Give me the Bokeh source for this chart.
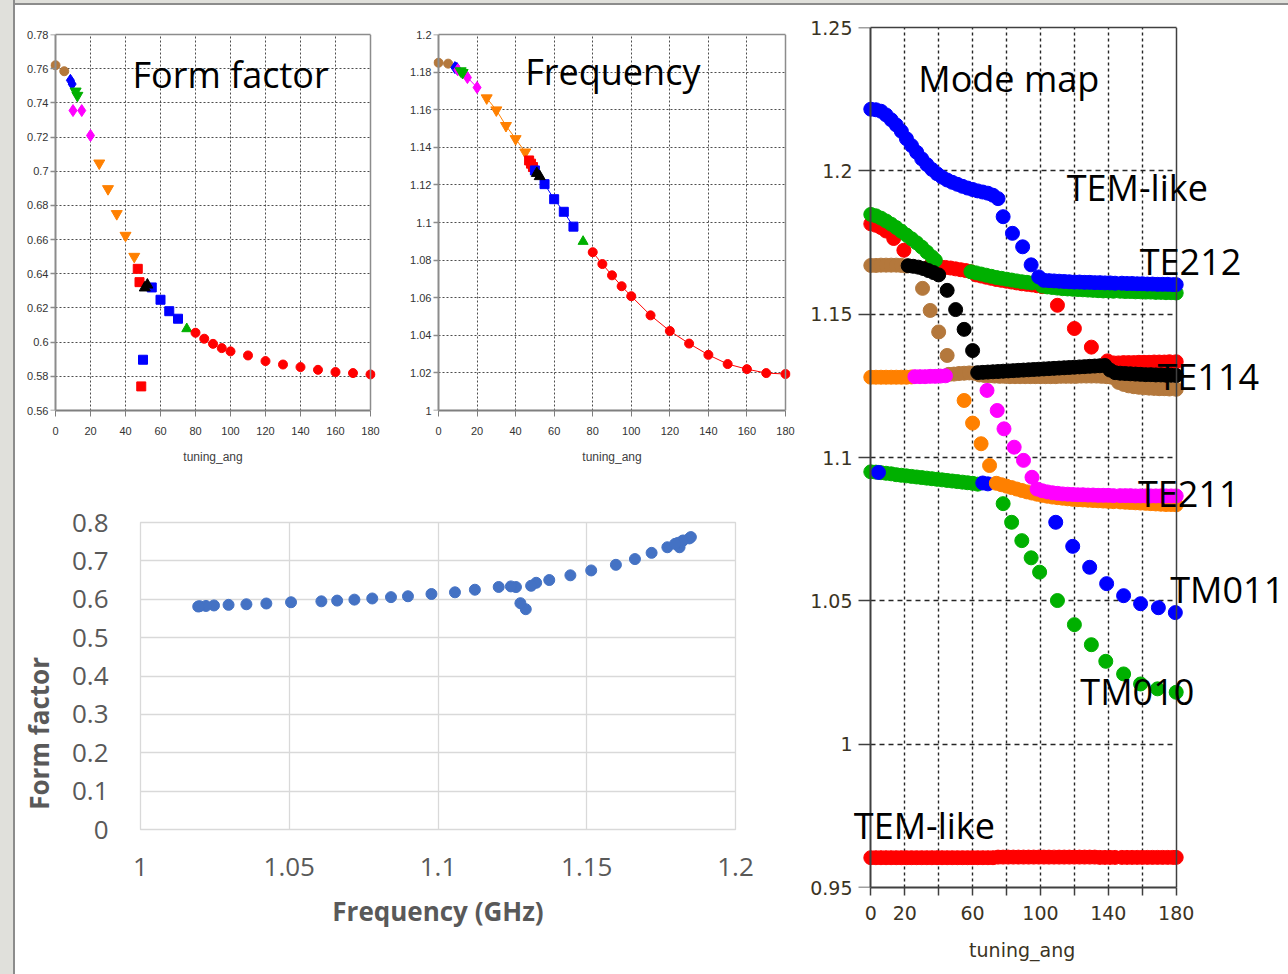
from bokeh.plotting import figure
from bokeh.layouts import row, column
from bokeh.models import Spacer, Label, FixedTicker, LinearAxis
from bokeh.embed import file_html
from bokeh.resources import INLINE

SMALL = "Liberation Sans"
BIG = "Open Sans"

# ---------------------------------------------------------------
# Tuning scan: form factor and frequency of the tracked mode
# ---------------------------------------------------------------
SEGMENT = ["brown_circle", "brown_circle",
           "blue_diamond", "blue_diamond",
           "magenta_diamond", "magenta_diamond", "magenta_diamond",
           "green_down", "green_down",
           "orange_down", "orange_down", "orange_down", "orange_down", "orange_down",
           "red_square", "red_square", "red_square",
           "blue_square", "blue_square", "blue_square", "blue_square", "blue_square",
           "black_up", "black_up",
           "green_up",
           "red_circle", "red_circle", "red_circle", "red_circle", "red_circle",
           "red_circle", "red_circle", "red_circle", "red_circle", "red_circle",
           "red_circle", "red_circle", "red_circle"]
ANGLE = [0, 5,
         8.5, 9.5,
         10, 15, 20,
         11.5, 12.5,
         25, 30, 35, 40, 45,
         47, 48, 49,
         50, 55, 60, 65, 70,
         51, 52.5,
         75,
         80, 85, 90, 95, 100, 110, 120, 130, 140, 150, 160, 170, 180]
FORM_FACTOR = [0.7620, 0.7585,
               0.7532, 0.7510,
               0.7355, 0.7355, 0.7209,
               0.7468, 0.7443,
               0.7047, 0.6897, 0.6751, 0.6624, 0.6501,
               0.6429, 0.6351, 0.5741,
               0.5897, 0.6320, 0.6248, 0.6181, 0.6137,
               0.6318, 0.6335,
               0.6078,
               0.6055, 0.6020, 0.5990, 0.5965, 0.5946, 0.5922, 0.5889, 0.5869,
               0.5854, 0.5838, 0.5825, 0.5819, 0.5811]
FREQ_GHZ = [1.1850, 1.1845,
            1.1824, 1.1820,
            1.1812, 1.1771, 1.1718,
            1.1806, 1.1797,
            1.1662, 1.1598, 1.1515, 1.1445, 1.1374,
            1.1330, 1.1313, 1.1295,
            1.1277, 1.1204, 1.1124, 1.1057, 1.0978,
            1.1262, 1.1245,
            1.0899,
            1.0842, 1.0779, 1.0719, 1.0661, 1.0608, 1.0506, 1.0423, 1.0356,
            1.0296, 1.0247, 1.0220, 1.0199, 1.0194]

SEGMENT_STYLE = {
    "brown_circle": ("#b4783c", "circle", 9),
    "blue_diamond": ("#0000ff", "diamond", 12),
    "magenta_diamond": ("#ff00ff", "diamond", 12),
    "green_down": ("#00b000", "inverted_triangle", 11),
    "orange_down": ("#ff8000", "inverted_triangle", 11),
    "red_square": ("#ff0000", "square", 9),
    "blue_square": ("#0000ff", "square", 9),
    "black_up": ("#000000", "triangle", 11),
    "green_up": ("#00b000", "triangle", 10),
    "red_circle": ("#ff0000", "circle", 9),
}

ANGLE_TICKS = [0, 20, 40, 60, 80, 100, 120, 140, 160, 180]
ANGLE_TICK_LABELS = ["0", "20", "40", "60", "80", "100", "120", "140", "160", "180"]
FF_TICKS = [0.56, 0.58, 0.60, 0.62, 0.64, 0.66, 0.68, 0.70, 0.72, 0.74, 0.76, 0.78]
FF_TICK_LABELS = ["0.56", "0.58", "0.6", "0.62", "0.64", "0.66", "0.68", "0.7",
                  "0.72", "0.74", "0.76", "0.78"]
FREQ_TICKS = [1.00, 1.02, 1.04, 1.06, 1.08, 1.10, 1.12, 1.14, 1.16, 1.18, 1.20]
FREQ_TICK_LABELS = ["1", "1.02", "1.04", "1.06", "1.08", "1.1", "1.12", "1.14",
                    "1.16", "1.18", "1.2"]

# ---------------------------------------------------------------
# Mode map: eigenfrequencies (GHz) of each solver mode vs tuning angle
# ---------------------------------------------------------------
MM_RED_X = [0, 3, 6, 9, 12, 15, 18, 21, 24, 27, 30, 33, 36, 39, 42, 45, 48, 51, 54, 57,
            60, 63, 66, 69, 72, 75, 78, 81, 84, 87, 90, 93, 96, 99, 102, 105, 108, 111,
            114, 117, 120, 123, 126, 129, 132, 135, 138, 141, 144,
            148, 151, 154, 157, 160, 163, 166, 169, 172, 175, 178, 180,
            0, 3, 6, 9, 13.5, 19.5,
            35, 38, 41, 44, 47, 50, 53, 56, 59,
            62, 65, 68, 71, 74, 77, 80, 83, 86, 89, 92, 95, 98, 101,
            110, 120, 130, 139.5,
            143, 146, 149, 152, 155, 158, 161, 164, 167, 170, 173, 176, 180]
MM_RED_Y = [0.9604, 0.9604, 0.9604, 0.9604, 0.9604, 0.9604, 0.9604, 0.9604, 0.9604, 0.9604,
            0.9604, 0.9604, 0.9604, 0.9604, 0.9604, 0.9604, 0.9604, 0.9604, 0.9604, 0.9604,
            0.9604, 0.9604, 0.9604, 0.9604, 0.9604, 0.9606, 0.9606, 0.9606, 0.9606, 0.9606,
            0.9606, 0.9606, 0.9606, 0.9606, 0.9606, 0.9606, 0.9606, 0.9606, 0.9606, 0.9606,
            0.9606, 0.9606, 0.9606, 0.9606, 0.9606, 0.9605, 0.9605, 0.9605, 0.9605,
            0.9605, 0.9605, 0.9605, 0.9605, 0.9605, 0.9605, 0.9605, 0.9605, 0.9605, 0.9605,
            0.9605, 0.9605,
            1.1815, 1.1810, 1.1802, 1.1790, 1.1764, 1.1723,
            1.1669, 1.1667, 1.1665, 1.1663, 1.1661, 1.1658, 1.1655, 1.1652, 1.1648,
            1.1637, 1.1633, 1.1629, 1.1625, 1.1621, 1.1618, 1.1615, 1.1612, 1.1609, 1.1606,
            1.1604, 1.1602, 1.1599, 1.1596,
            1.1531, 1.1450, 1.1385, 1.1337,
            1.1330, 1.1330, 1.1331, 1.1331, 1.1331, 1.1332, 1.1332, 1.1332, 1.1333, 1.1333,
            1.1333, 1.1334, 1.1334]

MM_GREEN_X = [0, 3, 6, 9, 12, 15, 18, 21, 24, 27, 30, 33, 36, 38,
              59, 62, 65, 68, 71, 74, 77, 80, 83, 86, 89, 92, 95,
              101, 104, 107, 110, 113, 116, 119, 122, 125, 128, 131, 134, 137, 140, 143,
              147, 150, 153, 156, 159, 162, 165, 168, 171, 174, 177, 180,
              0, 3, 6, 9, 12, 15, 18, 21, 24, 27, 30, 33, 36, 39, 42, 45, 48, 51, 54, 57,
              60, 63,
              78, 83, 89, 94.5, 99.5, 110, 120, 130, 138.5, 149, 159, 169, 180]
MM_GREEN_Y = [1.1848, 1.1843, 1.1835, 1.1825, 1.1814, 1.1802, 1.1789, 1.1776, 1.1763, 1.1749,
              1.1734, 1.1717, 1.1700, 1.1688,
              1.1648, 1.1644, 1.1640, 1.1636, 1.1632, 1.1628, 1.1625, 1.1622, 1.1619, 1.1616,
              1.1613, 1.1611, 1.1609,
              1.1598, 1.1595, 1.1593, 1.1591, 1.1589, 1.1588, 1.1587, 1.1586, 1.1585, 1.1584,
              1.1583, 1.1582, 1.1581, 1.1581, 1.1580,
              1.1580, 1.1579, 1.1579, 1.1578, 1.1578, 1.1577, 1.1577, 1.1576, 1.1576, 1.1575,
              1.1575, 1.1574,
              1.0950, 1.0949, 1.0947, 1.0945, 1.0943, 1.0940, 1.0938, 1.0936, 1.0934, 1.0932,
              1.0930, 1.0928, 1.0926, 1.0924, 1.0922, 1.0920, 1.0918, 1.0916, 1.0914, 1.0912,
              1.0910, 1.0907,
              1.0839, 1.0774, 1.0710, 1.0650, 1.0600, 1.0501, 1.0417, 1.0347, 1.0289, 1.0245,
              1.0210, 1.0193, 1.0181]

MM_BLUE_X = [0, 3, 6, 9, 12, 15, 18, 21, 24, 27, 30, 33, 36, 39, 42, 45, 48, 51, 54, 57,
             60, 63, 66, 69, 72, 75,
             78, 83.5, 89.5, 94.5, 99,
             102, 105, 108, 111, 114, 117, 120, 123, 126, 129, 132, 135, 138, 141, 144,
             148, 151, 154, 157, 160, 163, 166, 169, 172, 175, 178, 180,
             4.5, 66, 69,
             109, 119, 129, 139, 149, 159, 169.5, 179.5]
MM_BLUE_Y = [1.2215, 1.2213, 1.2208, 1.2195, 1.2178, 1.2160, 1.2138, 1.2112, 1.2088, 1.2065,
             1.2042, 1.2022, 1.2005, 1.1990, 1.1978, 1.1968, 1.1960, 1.1953, 1.1946, 1.1940,
             1.1935, 1.1930, 1.1926, 1.1922, 1.1915, 1.1903,
             1.1840, 1.1782, 1.1735, 1.1672, 1.1630,
             1.1618, 1.1617, 1.1616, 1.1615, 1.1614, 1.1613, 1.1612, 1.1612, 1.1611, 1.1611,
             1.1610, 1.1610, 1.1609, 1.1609, 1.1608,
             1.1608, 1.1607, 1.1607, 1.1606, 1.1606, 1.1605, 1.1605, 1.1604, 1.1604, 1.1604,
             1.1603, 1.1603,
             1.0948, 1.0911, 1.0908,
             1.0774, 1.0690, 1.0617, 1.0560, 1.0518, 1.0490, 1.0476, 1.0459]
MM_BLUE_LINE_X = [69, 75, 80, 85, 90, 95, 101]
MM_BLUE_LINE_Y = [1.0908, 1.0898, 1.0890, 1.0881, 1.0872, 1.0864, 1.0857]

MM_BROWN_X = [0, 3, 6, 9, 12, 15, 18, 21,
              30.5, 35, 40, 45,
              46, 49, 52, 55, 58, 61, 64, 67, 70, 73, 76, 79, 82, 85, 88, 91, 94, 97, 100,
              103, 106, 109, 112, 115, 118, 121, 124, 127, 130, 133, 136, 139, 142,
              146, 149, 152, 155, 158, 161, 164, 167, 170, 173, 176, 180]
MM_BROWN_Y = [1.1670, 1.1670, 1.1671, 1.1671, 1.1671, 1.1671, 1.1670, 1.1668,
              1.1590, 1.1513, 1.1438, 1.1356,
              1.1290, 1.1291, 1.1293, 1.1294, 1.1295, 1.1294, 1.1288, 1.1286, 1.1285, 1.1284,
              1.1283, 1.1283, 1.1282, 1.1282, 1.1282, 1.1282, 1.1282, 1.1282, 1.1282, 1.1282,
              1.1282, 1.1282, 1.1283, 1.1283, 1.1283, 1.1283, 1.1284, 1.1284, 1.1284, 1.1284,
              1.1283, 1.1282, 1.1280,
              1.1262, 1.1255, 1.1250, 1.1247, 1.1245, 1.1243, 1.1242, 1.1241, 1.1240, 1.1240,
              1.1239, 1.1238]

MM_BLACK_X = [22, 25, 28, 31, 34, 37, 40,
              45, 50, 55, 60,
              63, 66, 69, 72, 75, 78, 81, 84, 87, 90, 93, 96, 99, 102, 105, 108, 111, 114,
              117, 120, 123, 126, 129, 132, 135, 138,
              141, 144, 147, 150, 153, 156, 159, 162, 165, 168, 171, 174, 177, 180]
MM_BLACK_Y = [1.1669, 1.1667, 1.1664, 1.1659, 1.1652, 1.1645, 1.1637,
              1.1583, 1.1516, 1.1447, 1.1373,
              1.1296, 1.1297, 1.1298, 1.1299, 1.1300, 1.1301, 1.1302, 1.1303, 1.1304, 1.1305,
              1.1306, 1.1307, 1.1308, 1.1309, 1.1310, 1.1311, 1.1312, 1.1313, 1.1314, 1.1315,
              1.1316, 1.1317, 1.1318, 1.1319, 1.1320, 1.1321,
              1.1305, 1.1296, 1.1294, 1.1293, 1.1292, 1.1291, 1.1290, 1.1289, 1.1289, 1.1288,
              1.1288, 1.1287, 1.1287, 1.1286]

MM_ORANGE_X = [0, 3, 6, 9, 12, 15, 18, 21, 24,
               55, 60, 65, 70,
               74, 77, 80, 83, 86, 89, 92, 95, 98, 101, 104, 107, 110, 113, 116, 119, 122,
               125, 128, 131, 134, 137, 140, 143,
               147, 150, 153, 156, 159, 162, 165, 168, 171, 174, 177, 180]
MM_ORANGE_Y = [1.1280, 1.1280, 1.1280, 1.1280, 1.1280, 1.1280, 1.1280, 1.1280, 1.1281,
               1.1199, 1.1120, 1.1048, 1.0972,
               1.0910, 1.0905, 1.0900, 1.0895, 1.0890, 1.0885, 1.0880, 1.0876, 1.0872, 1.0868,
               1.0865, 1.0862, 1.0860, 1.0858, 1.0856, 1.0854, 1.0853, 1.0852, 1.0851, 1.0850,
               1.0849, 1.0848, 1.0847, 1.0846,
               1.0845, 1.0844, 1.0843, 1.0842, 1.0841, 1.0840, 1.0839, 1.0838, 1.0837, 1.0836,
               1.0836, 1.0835]

MM_MAGENTA_X = [26, 29, 32, 35, 38, 41, 44,
                68.5, 74.5, 78.5, 84.5, 90, 95,
                98, 101, 104, 107, 110, 113, 116, 119, 122, 125, 128, 131, 134, 137, 140, 143,
                147, 150, 153, 156, 159, 162, 165, 168, 171, 174, 177, 180]
MM_MAGENTA_Y = [1.1282, 1.1282, 1.1282, 1.1283, 1.1283, 1.1284, 1.1285,
                1.1234, 1.1164, 1.1100, 1.1036, 1.0990, 1.0931,
                1.0890, 1.0884, 1.0880, 1.0877, 1.0875, 1.0873, 1.0872, 1.0871, 1.0870, 1.0870,
                1.0869, 1.0869, 1.0868, 1.0868, 1.0868, 1.0867,
                1.0867, 1.0867, 1.0867, 1.0866, 1.0866, 1.0866, 1.0866, 1.0866, 1.0866, 1.0866,
                1.0866, 1.0866]

MM_X_TICKS = [0, 20, 40, 60, 80, 100, 120, 140, 160, 180]
MM_X_TICK_LABELS = ["0", "20", "", "60", "", "100", "", "140", "", "180"]
MM_Y_TICKS = [0.95, 1.0, 1.05, 1.1, 1.15, 1.2, 1.25]
MM_Y_TICK_LABELS = ["0.95", "1", "1.05", "1.1", "1.15", "1.2", "1.25"]

# mode names placed next to their branches: (text, tuning angle, frequency)
MODE_NAMES = ["Mode map", "TEM-like", "TE212", "TE114", "TE211", "TM011", "TM010", "TEM-like"]
MODE_NAME_X = [28, 115.5, 158.5, 169, 157.5, 176.5, 123.5, -10]
MODE_NAME_Y = [1.2322, 1.1941, 1.1685, 1.1284, 1.0876, 1.0541, 1.0185, 0.9717]

# bottom panel ticks
SCATTER_X_TICKS = [1.0, 1.05, 1.1, 1.15, 1.2]
SCATTER_X_TICK_LABELS = ["1", "1.05", "1.1", "1.15", "1.2"]
SCATTER_Y_TICKS = [0.0, 0.1, 0.2, 0.3, 0.4, 0.5, 0.6, 0.7, 0.8]
SCATTER_Y_TICK_LABELS = ["0", "0.1", "0.2", "0.3", "0.4", "0.5", "0.6", "0.7", "0.8"]


def base_fig(**kw):
    return figure(output_backend="svg", toolbar_location=None,
                  background_fill_color="white", border_fill_color="white", **kw)


def set_ticks(axis, ticks, labels):
    axis.ticker = FixedTicker(ticks=ticks)
    axis.major_label_overrides = dict(zip(ticks, labels))


def box_axes(p, x0, x1, yticks, line_color, line_width, tick_out):
    """The frame is a little wider than x0..x1 so that edge markers stay whole.
    The regular left axis only carries the labels; a second axis pinned at x0
    draws the spine and its ticks, and plain rules close the box on top/right."""
    p.outline_line_color = None
    ylab = p.yaxis[0]
    ylab.axis_line_color = None
    ylab.major_tick_line_color = None
    ylab.major_tick_out = 0
    ylab.major_tick_in = 0
    spine = LinearAxis(fixed_location=x0, ticker=FixedTicker(ticks=yticks),
                       major_label_overrides={t: "" for t in yticks},
                       axis_line_color=line_color, axis_line_width=2,
                       major_tick_line_color=line_color, major_tick_line_width=1.5,
                       major_tick_out=tick_out, major_tick_in=0,
                       minor_tick_line_color=None)
    p.add_layout(spine, "left")
    p.xaxis.bounds = (x0, x1)
    top = LinearAxis(bounds=(x0, x1), ticker=FixedTicker(ticks=[]),
                     axis_line_color=line_color, axis_line_width=line_width,
                     major_tick_line_color=None, minor_tick_line_color=None)
    right = LinearAxis(fixed_location=x1, ticker=FixedTicker(ticks=[]),
                       axis_line_color=line_color, axis_line_width=line_width,
                       major_tick_line_color=None, minor_tick_line_color=None)
    p.add_layout(top, "above")
    p.add_layout(right, "right")
    p.ygrid.cross_bounds = (x0, x1)


def small_panel(p, yticks, ylabels):
    set_ticks(p.xaxis[0], ANGLE_TICKS, ANGLE_TICK_LABELS)
    set_ticks(p.yaxis[0], yticks, ylabels)
    p.xgrid.ticker = FixedTicker(ticks=ANGLE_TICKS[1:-1])
    p.ygrid.ticker = FixedTicker(ticks=yticks[1:-1])
    p.grid.grid_line_color = "#4d4d4d"
    p.grid.grid_line_dash = "2 2"
    p.grid.grid_line_width = 1
    for ax in (p.xaxis[0], p.yaxis[0]):
        ax.axis_line_color = "#7f7f7f"
        ax.axis_line_width = 2
        ax.major_tick_line_color = "#7f7f7f"
        ax.major_tick_out = 6
        ax.major_tick_in = 0
        ax.minor_tick_line_color = None
        ax.major_label_text_font = SMALL
        ax.major_label_text_font_size = "11px"
        ax.major_label_text_color = "#333333"
    p.xaxis.major_label_standoff = 10
    p.yaxis.major_label_standoff = 2
    p.xaxis.axis_label = "tuning_ang"
    p.xaxis.axis_label_text_font = SMALL
    p.xaxis.axis_label_text_font_size = "12px"
    p.xaxis.axis_label_text_font_style = "normal"
    p.xaxis.axis_label_text_color = "#404040"
    p.xaxis.axis_label_standoff = 12
    box_axes(p, 0, 180, yticks, "#8c8c8c", 1.5, 6)


def draw_segments(p, yvalues, with_lines):
    for seg, (color, marker, size) in SEGMENT_STYLE.items():
        xs = [a for a, s in zip(ANGLE, SEGMENT) if s == seg]
        ys = [v for v, s in zip(yvalues, SEGMENT) if s == seg]
        if with_lines and len(xs) > 1:
            p.line(xs, ys, line_color=color, line_width=1)
        p.scatter(xs, ys, marker=marker, size=size, fill_color=color, line_color=color)


# ---- top-left: form factor vs tuning angle ----
pa = base_fig(width=385, height=470, x_range=(-2.86, 182.86), y_range=(0.56, 0.78),
              min_border_left=35, min_border_right=25, min_border_top=29,
              min_border_bottom=65)
small_panel(pa, FF_TICKS, FF_TICK_LABELS)
draw_segments(pa, FORM_FACTOR, False)
pa.add_layout(Label(x=44, y=0.7567, text="Form factor", text_font=BIG,
                    text_font_size="36px", text_color="black",
                    text_baseline="alphabetic"))

# ---- top-middle: frequency vs tuning angle ----
pb = base_fig(width=400, height=470, x_range=(-2.6, 182.6), y_range=(1.0, 1.2),
              min_border_left=33, min_border_right=10, min_border_top=28,
              min_border_bottom=63)
small_panel(pb, FREQ_TICKS, FREQ_TICK_LABELS)
draw_segments(pb, FREQ_GHZ, True)
pb.add_layout(Label(x=45, y=1.1804, text="Frequency", text_font=BIG,
                    text_font_size="36px", text_color="black",
                    text_baseline="alphabetic"))

# ---- bottom-left: form factor vs frequency ----
pc = base_fig(width=785, height=499, x_range=(1.0, 1.2), y_range=(0.0, 0.8),
              min_border_left=125, min_border_right=65, min_border_top=47,
              min_border_bottom=145)
set_ticks(pc.xaxis[0], SCATTER_X_TICKS, SCATTER_X_TICK_LABELS)
set_ticks(pc.yaxis[0], SCATTER_Y_TICKS, SCATTER_Y_TICK_LABELS)
pc.xgrid.ticker = FixedTicker(ticks=SCATTER_X_TICKS)
pc.ygrid.ticker = FixedTicker(ticks=SCATTER_Y_TICKS)
pc.grid.grid_line_color = "#d9d9d9"
pc.grid.grid_line_width = 1.3
pc.outline_line_color = "#d9d9d9"
pc.outline_line_width = 1.3
for ax in (pc.xaxis[0], pc.yaxis[0]):
    ax.axis_line_color = None
    ax.major_tick_line_color = None
    ax.minor_tick_line_color = None
    ax.major_label_text_font = BIG
    ax.major_label_text_font_size = "26px"
    ax.major_label_text_color = "#595959"
    ax.axis_label_text_font = BIG
    ax.axis_label_text_font_size = "26px"
    ax.axis_label_text_font_style = "bold"
    ax.axis_label_text_color = "#595959"
pc.xaxis.major_label_standoff = 22
pc.yaxis.major_label_standoff = 26
pc.xaxis.axis_label = "Frequency (GHz)"
# title sits low on the axis, padded with no-break spaces at its far end
pc.yaxis.axis_label = "Form factor" + "\u00a0" * 17
pc.xaxis.axis_label_standoff = 14
pc.yaxis.axis_label_standoff = 12
pc.scatter(FREQ_GHZ, FORM_FACTOR, marker="circle", size=11,
           fill_color="#4472c4", line_color="#4472c4")

# ---- right: mode map ----
pm = base_fig(width=488, height=969, x_range=(-10.2, 245.6), y_range=(0.95, 1.25),
              min_border_left=53, min_border_right=1, min_border_top=22,
              min_border_bottom=87)
set_ticks(pm.xaxis[0], MM_X_TICKS, MM_X_TICK_LABELS)
set_ticks(pm.yaxis[0], MM_Y_TICKS, MM_Y_TICK_LABELS)
pm.xgrid.ticker = FixedTicker(ticks=MM_X_TICKS[1:-1])
pm.ygrid.ticker = FixedTicker(ticks=MM_Y_TICKS[1:-1])
pm.xgrid.grid_line_dash = "3 3"
pm.ygrid.grid_line_dash = "5 4"
pm.grid.grid_line_color = "#262626"
pm.grid.grid_line_width = 1.4
for ax in (pm.xaxis[0], pm.yaxis[0]):
    ax.axis_line_color = "#404040"
    ax.axis_line_width = 2
    ax.major_tick_line_color = "#404040"
    ax.major_tick_line_width = 1.5
    ax.major_tick_in = 0
    ax.minor_tick_line_color = None
    ax.major_label_text_font = "DejaVu Sans"
    ax.major_label_text_font_size = "19px"
    ax.major_label_text_color = "#3b3323"
pm.xaxis.major_tick_out = 8
pm.xaxis.major_label_standoff = 10
pm.yaxis.major_label_standoff = 1
# the label is centred on the (wider) frame, so it carries trailing no-break spaces
pm.xaxis.axis_label = "tuning_ang" + "\u00a0" * 16
pm.xaxis.axis_label_text_font = "DejaVu Sans"
pm.xaxis.axis_label_text_font_size = "19px"
pm.xaxis.axis_label_text_font_style = "normal"
pm.xaxis.axis_label_text_color = "#3b3323"
pm.xaxis.axis_label_standoff = 16
box_axes(pm, 0, 180, MM_Y_TICKS, "#404040", 1.5, 12)

MM_SIZE = 14
pm.scatter(MM_RED_X, MM_RED_Y, size=MM_SIZE, fill_color="#ff0000", line_color="#ff0000")
pm.scatter(MM_GREEN_X, MM_GREEN_Y, size=MM_SIZE, fill_color="#00b000", line_color="#00b000")
pm.line(MM_BLUE_LINE_X, MM_BLUE_LINE_Y, line_color="#0000ff", line_width=1.5)
pm.scatter(MM_BLUE_X, MM_BLUE_Y, size=MM_SIZE, fill_color="#0000ff", line_color="#0000ff")
pm.scatter(MM_BROWN_X, MM_BROWN_Y, size=MM_SIZE, fill_color="#b4783c", line_color="#b4783c")
pm.scatter(MM_BLACK_X, MM_BLACK_Y, size=MM_SIZE, fill_color="#000000", line_color="#000000")
pm.scatter(MM_ORANGE_X, MM_ORANGE_Y, size=MM_SIZE, fill_color="#ff8000", line_color="#ff8000")
pm.scatter(MM_MAGENTA_X, MM_MAGENTA_Y, size=MM_SIZE, fill_color="#ff00ff", line_color="#ff00ff")

for name, nx, ny in zip(MODE_NAMES, MODE_NAME_X, MODE_NAME_Y):
    pm.add_layout(Label(x=nx, y=ny, text=name, text_font=BIG, text_font_size="36px",
                        text_color="black", text_baseline="alphabetic"))

# ---- page frame ----
content = row(column(row(pa, pb), pc), pm)
page = row(
    Spacer(width=13, height=974, styles={"background-color": "#e0e0db"}),
    Spacer(width=2, height=974, styles={"background-color": "#8c8c8c"}),
    column(
        Spacer(width=1273, height=3, styles={"background-color": "#e0e0db"}),
        Spacer(width=1273, height=2, styles={"background-color": "#8c8c8c"}),
        content,
    ),
)

open("out.html", "w").write(file_html(page, INLINE))
